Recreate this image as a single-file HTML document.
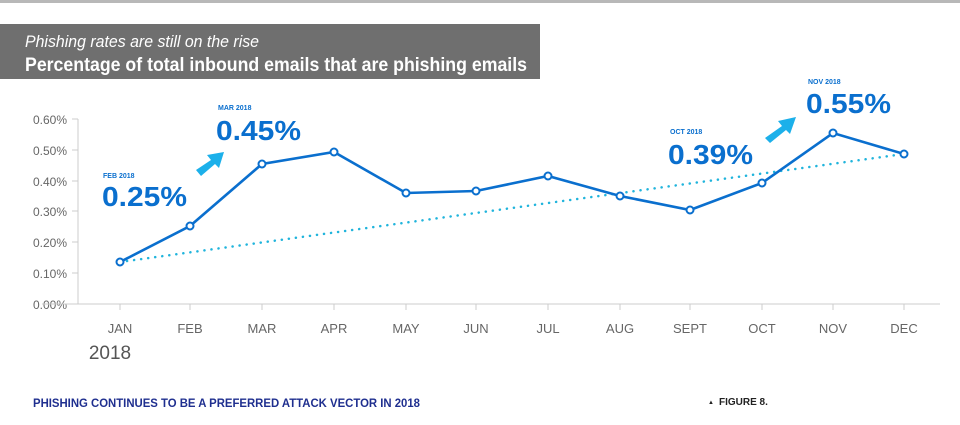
<!DOCTYPE html>
<html><head><meta charset="utf-8"><style>
body{margin:0;background:#fff;}
svg text{font-family:"Liberation Sans",sans-serif;}
</style></head><body>
<svg width="960" height="420" xmlns="http://www.w3.org/2000/svg">
<rect x="0" y="0" width="960" height="3" fill="#b8b8b8"/>
<rect x="0" y="24" width="540" height="55" fill="#6f6f6f"/>
<text x="25" y="47" fill="#fff" font-size="17" font-style="italic" textLength="234" lengthAdjust="spacingAndGlyphs">Phishing rates are still on the rise</text>
<text x="25" y="71" fill="#fff" font-size="19" font-weight="bold" textLength="502" lengthAdjust="spacingAndGlyphs">Percentage of total inbound emails that are phishing emails</text>
<g fill="#666" font-size="12" text-anchor="end">
<text x="67" y="124">0.60%</text><text x="67" y="155">0.50%</text><text x="67" y="186">0.40%</text>
<text x="67" y="216">0.30%</text><text x="67" y="247">0.20%</text><text x="67" y="278">0.10%</text><text x="67" y="309">0.00%</text>
</g>
<g stroke="#ccc" stroke-width="1">
<line x1="78" y1="119" x2="78" y2="304"/>
<line x1="72" y1="119" x2="78" y2="119"/><line x1="72" y1="150" x2="78" y2="150"/><line x1="72" y1="181" x2="78" y2="181"/><line x1="72" y1="211" x2="78" y2="211"/><line x1="72" y1="242" x2="78" y2="242"/><line x1="72" y1="273" x2="78" y2="273"/>
<line x1="42" y1="304" x2="940" y2="304"/>
<g stroke-width="1">
<line x1="120" y1="304" x2="120" y2="310"/><line x1="190" y1="304" x2="190" y2="310"/><line x1="262" y1="304" x2="262" y2="310"/><line x1="334" y1="304" x2="334" y2="310"/><line x1="406" y1="304" x2="406" y2="310"/><line x1="476" y1="304" x2="476" y2="310"/><line x1="548" y1="304" x2="548" y2="310"/><line x1="620" y1="304" x2="620" y2="310"/><line x1="690" y1="304" x2="690" y2="310"/><line x1="762" y1="304" x2="762" y2="310"/><line x1="833" y1="304" x2="833" y2="310"/><line x1="904" y1="304" x2="904" y2="310"/>
</g></g>
<g fill="#666" font-size="13" text-anchor="middle">
<text x="120" y="333">JAN</text><text x="190" y="333">FEB</text><text x="262" y="333">MAR</text><text x="334" y="333">APR</text><text x="406" y="333">MAY</text><text x="476" y="333">JUN</text><text x="548" y="333">JUL</text><text x="620" y="333">AUG</text><text x="690" y="333">SEPT</text><text x="762" y="333">OCT</text><text x="833" y="333">NOV</text><text x="904" y="333">DEC</text>
</g>
<text x="110" y="359" fill="#555" font-size="19" text-anchor="middle">2018</text>
<line x1="120" y1="262" x2="904" y2="154" stroke="#20b4dc" stroke-width="2.5" stroke-dasharray="0.1 7" stroke-linecap="round"/>
<polyline points="120,262 190,226 262,164 334,152 406,193 476,191 548,176 620,196 690,210 762,183 833,133 904,154" fill="none" stroke="#0a6fce" stroke-width="2.6"/>
<g fill="#fff" stroke="#0a6fce" stroke-width="2">
<circle cx="120" cy="262" r="3.5"/><circle cx="190" cy="226" r="3.5"/><circle cx="262" cy="164" r="3.5"/><circle cx="334" cy="152" r="3.5"/><circle cx="406" cy="193" r="3.5"/><circle cx="476" cy="191" r="3.5"/><circle cx="548" cy="176" r="3.5"/><circle cx="620" cy="196" r="3.5"/><circle cx="690" cy="210" r="3.5"/><circle cx="762" cy="183" r="3.5"/><circle cx="833" cy="133" r="3.5"/><circle cx="904" cy="154" r="3.5"/>
</g>
<g fill="#0a6fce" font-weight="bold">
<text x="103" y="178" font-size="7">FEB 2018</text><text x="102" y="206" font-size="28" textLength="85" lengthAdjust="spacingAndGlyphs">0.25%</text>
<text x="218" y="110" font-size="7">MAR 2018</text><text x="216" y="140" font-size="28" textLength="85" lengthAdjust="spacingAndGlyphs">0.45%</text>
<text x="670" y="134" font-size="7">OCT 2018</text><text x="668" y="164" font-size="28" textLength="85" lengthAdjust="spacingAndGlyphs">0.39%</text>
<text x="808" y="84" font-size="7">NOV 2018</text><text x="806" y="113" font-size="28" textLength="85" lengthAdjust="spacingAndGlyphs">0.55%</text>
</g>
<g fill="#1cb0ea">
<path d="M196,170 L211,160 L207,155 L224,152 L219,168 L215,164 L201,176 Z"/>
<path d="M765,138 L782,126 L778,121 L796,117 L790,134 L786,130 L770,143 Z"/>
</g>
<text x="33" y="407" fill="#1f2f8f" font-size="12" font-weight="bold" textLength="387" lengthAdjust="spacingAndGlyphs">PHISHING CONTINUES TO BE A PREFERRED ATTACK VECTOR IN 2018</text>
<text x="708" y="404" fill="#222" font-size="6">▲</text>
<text x="719" y="405" fill="#222" font-size="10" font-weight="bold">FIGURE 8.</text>
</svg>
</body></html>
